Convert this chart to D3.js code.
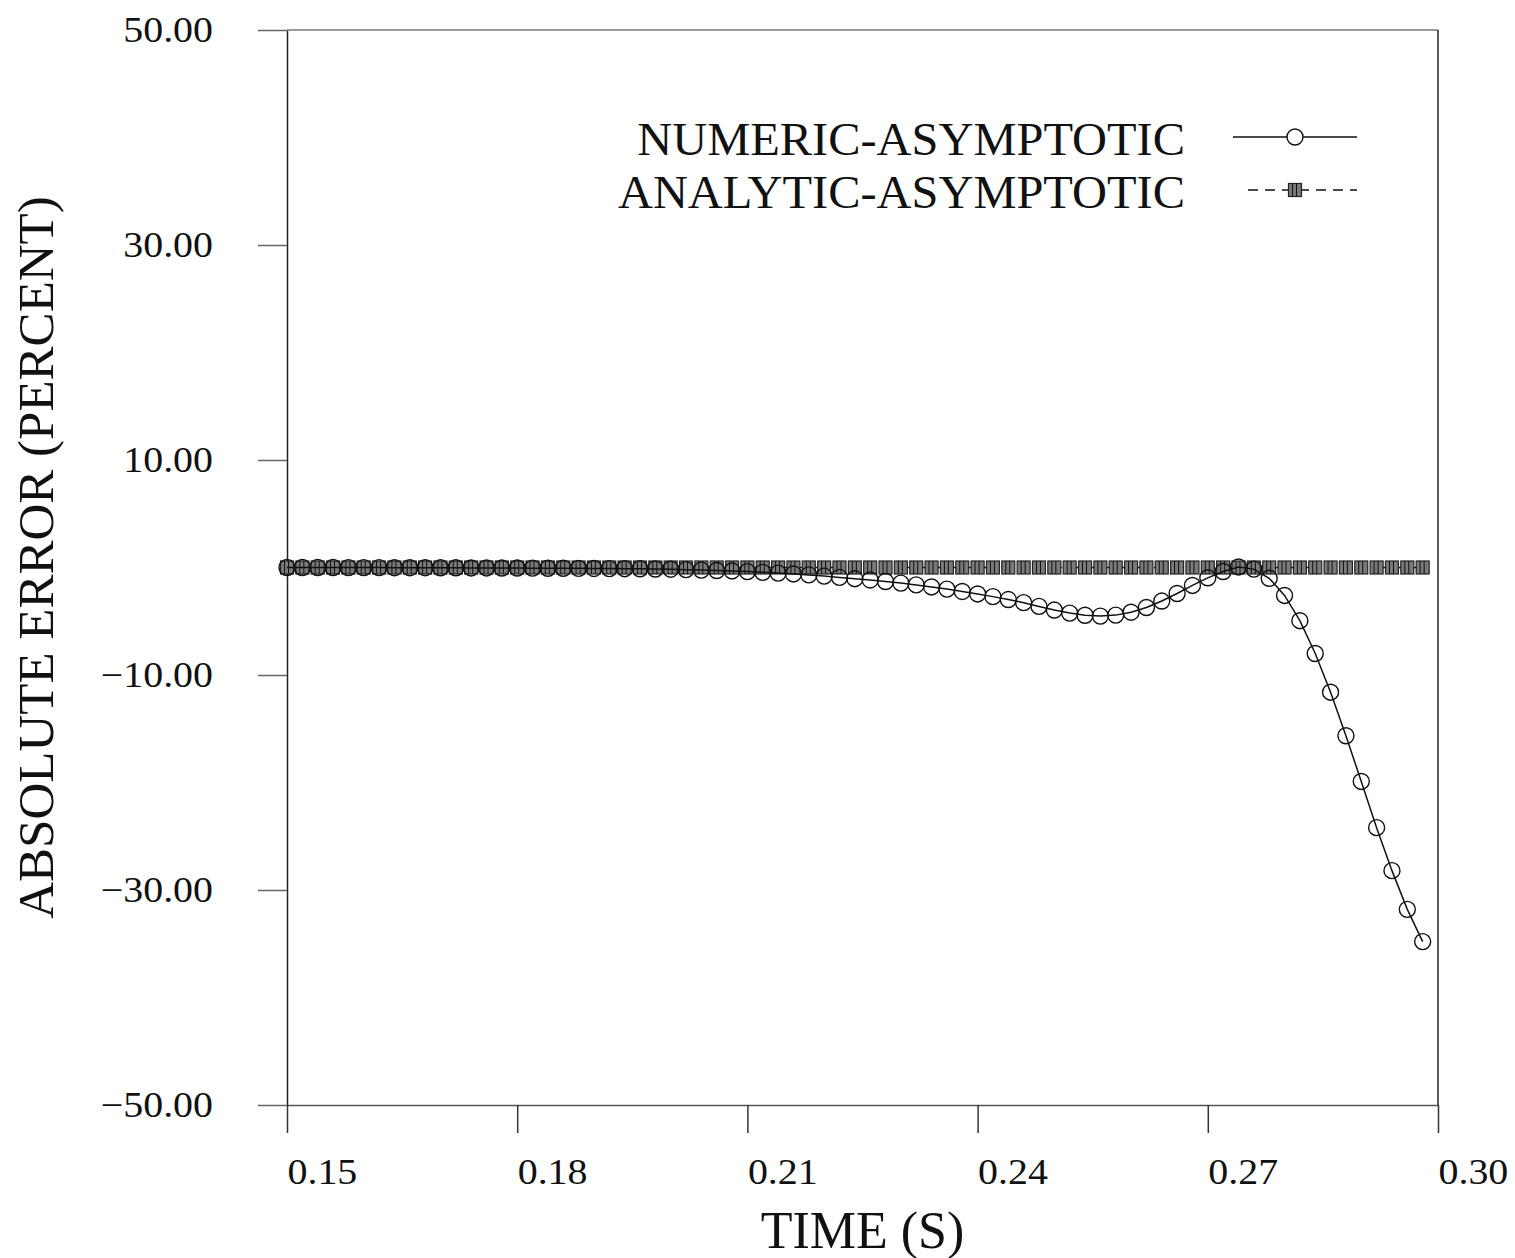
<!DOCTYPE html>
<html>
<head>
<meta charset="utf-8">
<script src="https://cdn.jsdelivr.net/npm/d3@7"></script>
<style>
  body { margin: 0; background: #fff; }
  text { font-family: "Liberation Serif", "DejaVu Serif", serif; fill: #111; }
</style>
</head>
<body>
<div id="chart"></div>
<script>
// Data
const times = [
  0.150, 0.152, 0.154, 0.156, 0.158, 0.160, 0.162, 0.164, 0.166, 0.168,
  0.170, 0.172, 0.174, 0.176, 0.178, 0.180, 0.182, 0.184, 0.186, 0.188,
  0.190, 0.192, 0.194, 0.196, 0.198, 0.200, 0.202, 0.204, 0.206, 0.208,
  0.210, 0.212, 0.214, 0.216, 0.218, 0.220, 0.222, 0.224, 0.226, 0.228,
  0.230, 0.232, 0.234, 0.236, 0.238, 0.240, 0.242, 0.244, 0.246, 0.248,
  0.250, 0.252, 0.254, 0.256, 0.258, 0.260, 0.262, 0.264, 0.266, 0.268,
  0.270, 0.272, 0.274, 0.276, 0.278, 0.280, 0.282, 0.284, 0.286, 0.288,
  0.290, 0.292, 0.294, 0.296, 0.298
];

const numericAsymptotic = [
  0.00, 0.00, 0.00, 0.00, -0.01, -0.01, -0.01, -0.02, -0.02, -0.02,
  -0.03, -0.03, -0.04, -0.04, -0.05, -0.05, -0.06, -0.07, -0.07, -0.08,
  -0.09, -0.10, -0.11, -0.12, -0.14, -0.16, -0.20, -0.24, -0.28, -0.32,
  -0.38, -0.45, -0.52, -0.60, -0.69, -0.80, -0.92, -1.04, -1.16, -1.30,
  -1.45, -1.62, -1.81, -2.01, -2.23, -2.46, -2.71, -2.98, -3.27, -3.62,
  -3.96, -4.24, -4.44, -4.52, -4.43, -4.16, -3.72, -3.12, -2.42, -1.67,
  -0.96, -0.37, 0.05, -0.15, -1.00, -2.60, -4.95, -8.00, -11.60, -15.65,
  -19.90, -24.20, -28.20, -31.80, -34.80
];

const analyticAsymptotic = [
  0.00, 0.00, 0.00, 0.00, 0.00, 0.00, 0.00, 0.00, 0.00, 0.00,
  0.00, 0.00, 0.00, 0.00, 0.00, 0.00, 0.00, 0.00, 0.00, 0.00,
  0.00, 0.00, 0.00, 0.00, 0.00, 0.00, 0.00, 0.00, 0.00, 0.00,
  0.00, 0.00, 0.00, 0.00, 0.00, 0.00, 0.00, 0.00, 0.00, 0.00,
  0.00, 0.00, 0.00, 0.00, 0.00, 0.00, 0.00, 0.00, 0.00, 0.00,
  0.00, 0.00, 0.00, 0.00, 0.00, 0.00, 0.00, 0.00, 0.00, 0.00,
  0.00, 0.00, 0.00, 0.00, 0.00, 0.00, 0.00, 0.00, 0.00, 0.00,
  0.00, 0.00, 0.00, 0.00, 0.00
];

const xTicks = [0.15, 0.18, 0.21, 0.24, 0.27, 0.30];
const xTickLabels = ["0.15", "0.18", "0.21", "0.24", "0.27", "0.30"];
const yTicks = [50, 30, 10, -10, -30, -50];
const yTickLabels = ["50.00", "30.00", "10.00", "\u221210.00", "\u221230.00", "\u221250.00"];

const legendNames = ["NUMERIC-ASYMPTOTIC", "ANALYTIC-ASYMPTOTIC"];

// Layout
const width = 1515;
const height = 1258;
const margin = { top: 30, right: 77, bottom: 153, left: 287 };

const svg = d3.select("#chart")
  .append("svg")
  .attr("width", width)
  .attr("height", height);

const x = d3.scaleLinear().domain([0.15, 0.30]).range([margin.left, width - margin.right]);
const y = d3.scaleLinear().domain([-50, 50]).range([height - margin.bottom, margin.top]);

const numScale = 1.14;

// X axis
svg.append("g")
  .attr("transform", `translate(0,${y(-50)})`)
  .call(d3.axisBottom(x)
    .tickValues(xTicks)
    .tickSize(28)
    .tickSizeOuter(0)
    .tickFormat((d, i) => xTickLabels[i]))
  .call(g => g.select(".domain").attr("stroke", "#555").attr("stroke-width", 1.5))
  .call(g => g.selectAll(".tick line").attr("stroke", "#333").attr("stroke-width", 1.5))
  .call(g => g.selectAll(".tick text")
    .attr("x", 0).attr("y", 0).attr("dy", null)
    .attr("text-anchor", "start")
    .attr("transform", `translate(0,79) scale(${numScale},1)`)
    .style("font-size", "35px"));

// Y axis
svg.append("g")
  .attr("transform", `translate(${x(0.15)},0)`)
  .call(d3.axisLeft(y)
    .tickValues(yTicks)
    .tickSize(29)
    .tickSizeOuter(0)
    .tickFormat((d, i) => yTickLabels[i]))
  .call(g => g.select(".domain").attr("stroke", "#222").attr("stroke-width", 1.5))
  .call(g => g.selectAll(".tick line").attr("stroke", "#666").attr("stroke-width", 1.5))
  .call(g => g.selectAll(".tick text")
    .attr("x", 0).attr("dy", null)
    .attr("dominant-baseline", "central")
    .attr("text-anchor", "end")
    .attr("transform", `translate(-74,0) scale(${numScale},1)`)
    .style("font-size", "35px"));

// Frame: top and right side
svg.append("line")
  .attr("x1", x(0.15)).attr("x2", x(0.30))
  .attr("y1", y(50)).attr("y2", y(50))
  .attr("stroke", "#777").attr("stroke-width", 1.5);
svg.append("line")
  .attr("x1", x(0.30)).attr("x2", x(0.30))
  .attr("y1", y(50)).attr("y2", y(-50))
  .attr("stroke", "#222").attr("stroke-width", 1.5);

// Axis titles
svg.append("text")
  .attr("transform", `translate(53,${(y(50) + y(-50)) / 2 - 10}) rotate(-90)`)
  .attr("text-anchor", "middle")
  .style("font-size", "51px")
  .text("ABSOLUTE ERROR (PERCENT)");

svg.append("text")
  .attr("x", (x(0.15) + x(0.30)) / 2)
  .attr("y", 1248)
  .attr("text-anchor", "middle")
  .style("font-size", "52px")
  .text("TIME (S)");

// Series
const points1 = times.map((t, i) => ({ t: t, v: numericAsymptotic[i] }));
const points2 = times.map((t, i) => ({ t: t, v: analyticAsymptotic[i] }));

const line = d3.line().x(d => x(d.t)).y(d => y(d.v));

function squareMark(g) {
  g.append("rect")
    .attr("x", -6.5).attr("y", -6.5)
    .attr("width", 13).attr("height", 13)
    .attr("fill", "#7a7a7a")
    .attr("stroke", "#222")
    .attr("stroke-width", 1.2);
  [-2.5, 1.5].forEach(dx => g.append("line")
    .attr("x1", dx).attr("x2", dx)
    .attr("y1", -6.5).attr("y2", 6.5)
    .attr("stroke", "#111")
    .attr("stroke-width", 1));
}

// Analytic-asymptotic: dashed line with hatched squares
svg.append("path")
  .datum(points2)
  .attr("fill", "none")
  .attr("stroke", "#111")
  .attr("stroke-width", 1.3)
  .attr("stroke-dasharray", "10,7")
  .attr("d", line);

svg.append("g")
  .selectAll("g")
  .data(points2)
  .join("g")
  .attr("transform", d => `translate(${x(d.t)},${y(d.v)})`)
  .each(function () { squareMark(d3.select(this)); });

// Numeric-asymptotic: solid line with open circles
svg.append("path")
  .datum(points1)
  .attr("fill", "none")
  .attr("stroke", "#111")
  .attr("stroke-width", 1.5)
  .attr("d", line);

svg.append("g")
  .selectAll("circle")
  .data(points1)
  .join("circle")
  .attr("cx", d => x(d.t))
  .attr("cy", d => y(d.v))
  .attr("r", 8)
  .attr("fill", "none")
  .attr("stroke", "#111")
  .attr("stroke-width", 1.4);

// Legend
const legend = svg.append("g");
const legendRows = [155, 208];

legendNames.forEach((name, i) => {
  legend.append("text")
    .attr("x", 0).attr("y", 0)
    .attr("text-anchor", "end")
    .attr("transform", `translate(1185,${legendRows[i]}) scale(1.03,1)`)
    .style("font-size", "47px")
    .text(name);
});

const ly1 = legendRows[0] - 18;
const ly2 = legendRows[1] - 18;

legend.append("line")
  .attr("x1", 1233).attr("x2", 1357)
  .attr("y1", ly1).attr("y2", ly1)
  .attr("stroke", "#111").attr("stroke-width", 1.5);
legend.append("circle")
  .attr("cx", 1295).attr("cy", ly1).attr("r", 8)
  .attr("fill", "#fff").attr("stroke", "#111").attr("stroke-width", 1.4);

legend.append("line")
  .attr("x1", 1248).attr("x2", 1357)
  .attr("y1", ly2).attr("y2", ly2)
  .attr("stroke", "#111").attr("stroke-width", 1.3)
  .attr("stroke-dasharray", "10,7");
legend.append("g")
  .attr("transform", `translate(1295,${ly2})`)
  .call(squareMark);
</script>
</body>
</html>
